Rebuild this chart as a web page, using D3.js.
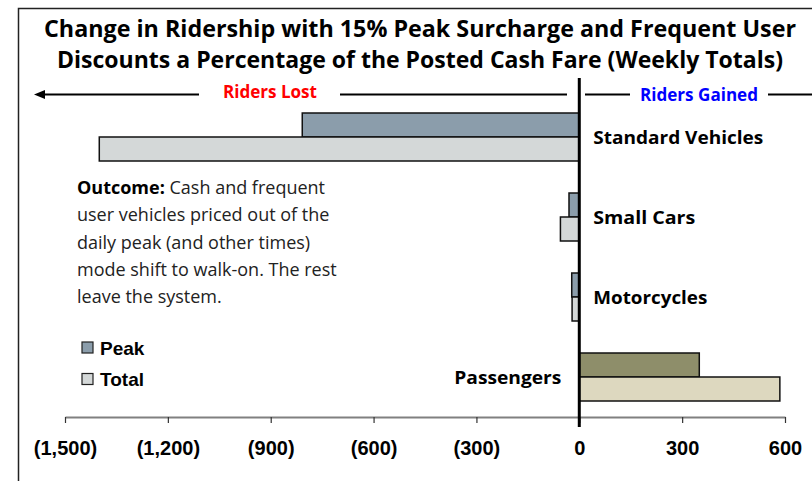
<!DOCTYPE html>
<html>
<head>
<meta charset="utf-8">
<script src="https://cdn.jsdelivr.net/npm/d3@7"></script>
<style>
  body { margin: 0; background: #fff; }
  svg { display: block; }
</style>
</head>
<body>
<svg id="chart" width="812" height="481"></svg>
<script>
// chart data
var categories = ["Standard Vehicles", "Small Cars", "Motorcycles", "Passengers"];
var series = ["Peak", "Total"];
var peakValues = [-808, -30, -22, 350];
var totalValues = [-1400, -55, -21, 585];
var tickValues = [-1500, -1200, -900, -600, -300, 0, 300, 600];
var titleLines = [
    "Change in Ridership with 15% Peak Surcharge and Frequent User",
    "Discounts a Percentage of the Posted Cash Fare (Weekly Totals)"
];
var noteLines = [
    "Cash and frequent",
    "user vehicles priced out of the",
    "daily peak (and other times)",
    "mode shift to walk-on. The rest",
    "leave the system."
];

var svg = d3.select("#chart");
var width = 812, height = 481;

var titleFont = "'Open Sans', 'DejaVu Sans', sans-serif";
var axisFont = "'Liberation Sans', Arial, sans-serif";

// frame (right and bottom run off the picture)
svg.append("rect")
    .attr("x", 18.5).attr("y", 8.5)
    .attr("width", 900).attr("height", 600)
    .attr("fill", "none")
    .attr("stroke", "#222")
    .attr("stroke-width", 1.5);

var x = d3.scaleLinear().domain([-1500, 600]).range([65, 785]);
var y = d3.scaleBand().domain(categories).range([97, 417])
    .paddingInner(0.4).paddingOuter(0.2);
var ySub = d3.scaleBand().domain(series).range([0, y.bandwidth()]);

// title
var titleWidths = [752, 726];
svg.selectAll(".title")
    .data(titleLines)
    .join("text")
    .attr("class", "title")
    .attr("x", 420)
    .attr("y", function(d, i) { return 37 + i * 31; })
    .attr("text-anchor", "middle")
    .attr("font-family", titleFont)
    .attr("font-weight", 700)
    .attr("font-size", 22.5)
    .attr("textLength", function(d, i) { return titleWidths[i]; })
    .attr("lengthAdjust", "spacingAndGlyphs")
    .attr("fill", "#000")
    .text(function(d) { return d; });

// riders lost / gained header
var headY = 94.5;
var lineSegs = [[44, 199], [340, 567], [585, 630], [768, 812]];
svg.selectAll(".seg")
    .data(lineSegs)
    .join("line")
    .attr("class", "seg")
    .attr("x1", function(d) { return d[0]; })
    .attr("x2", function(d) { return d[1]; })
    .attr("y1", headY).attr("y2", headY)
    .attr("stroke", "#000")
    .attr("stroke-width", 2);
svg.append("path")
    .attr("d", "M34," + headY + "L45," + (headY - 4.5) + "L45," + (headY + 4.5) + "Z")
    .attr("fill", "#000");

svg.append("text")
    .attr("x", 223).attr("y", 98)
    .attr("font-family", titleFont).attr("font-weight", 700).attr("font-size", 17)
    .attr("textLength", 94).attr("lengthAdjust", "spacingAndGlyphs")
    .attr("fill", "#ff0000")
    .text("Riders Lost");
svg.append("text")
    .attr("x", 640).attr("y", 101)
    .attr("font-family", titleFont).attr("font-weight", 700).attr("font-size", 17)
    .attr("textLength", 118).attr("lengthAdjust", "spacingAndGlyphs")
    .attr("fill", "#0000ff")
    .text("Riders Gained");

// bars
var colors = {
    normal: { Peak: "#8b9dab", Total: "#d4d8d8" },
    gain: { Peak: "#8e8e6a", Total: "#ddd8bf" }
};
var rows = [];
categories.forEach(function(c, i) {
    rows.push({ cat: c, s: "Peak", v: peakValues[i] });
    rows.push({ cat: c, s: "Total", v: totalValues[i] });
});

svg.selectAll(".bar")
    .data(rows)
    .join("rect")
    .attr("class", "bar")
    .attr("x", function(d) { return x(Math.min(0, d.v)); })
    .attr("y", function(d) { return y(d.cat) + ySub(d.s); })
    .attr("width", function(d) { return Math.abs(x(d.v) - x(0)); })
    .attr("height", ySub.bandwidth())
    .attr("fill", function(d) {
        return d.cat == "Passengers" ? colors.gain[d.s] : colors.normal[d.s];
    })
    .attr("stroke", "#111")
    .attr("stroke-width", 1.5);

// category labels
var labelWidths = { "Standard Vehicles": 170, "Small Cars": 102, "Motorcycles": 114, "Passengers": 107 };
svg.selectAll(".cat")
    .data(categories)
    .join("text")
    .attr("class", "cat")
    .attr("x", function(d, i) {
        return totalValues[i] < 0 ? x(0) + 14 : x(0) - 18;
    })
    .attr("y", function(d) { return y(d) + y.bandwidth() / 2 + 7; })
    .attr("text-anchor", function(d, i) { return totalValues[i] < 0 ? "start" : "end"; })
    .attr("font-family", titleFont)
    .attr("font-weight", 700)
    .attr("font-size", 18)
    .attr("textLength", function(d) { return labelWidths[d]; })
    .attr("lengthAdjust", "spacingAndGlyphs")
    .attr("fill", "#000")
    .text(function(d) { return d; });

// x axis
var fmt = d3.format(",");
var axis = svg.append("g")
    .attr("transform", "translate(0,417)")
    .call(d3.axisBottom(x)
        .tickValues(tickValues)
        .tickSize(6)
        .tickSizeOuter(0)
        .tickFormat(function(d) { return d < 0 ? "(" + fmt(-d) + ")" : fmt(d); }));
axis.select(".domain").attr("stroke", "#808080").attr("stroke-width", 2);
axis.selectAll(".tick line").attr("stroke", "#333").attr("stroke-width", 1.2);
axis.selectAll(".tick text")
    .attr("y", 38).attr("dy", 0)
    .attr("font-family", axisFont)
    .attr("font-weight", 700)
    .attr("font-size", 20)
    .attr("fill", "#000");

// zero line
svg.append("line")
    .attr("x1", x(0)).attr("x2", x(0))
    .attr("y1", 78).attr("y2", 427)
    .attr("stroke", "#000")
    .attr("stroke-width", 3);

// outcome note
var note = svg.append("text")
    .attr("font-family", titleFont)
    .attr("font-size", 18)
    .attr("fill", "#222");
noteLines.forEach(function(line, i) {
    var t = note.append("tspan")
        .attr("x", 77)
        .attr("y", 194 + i * 27.3);
    if (i == 0) {
        t.append("tspan").attr("font-weight", 700).attr("fill", "#000").text("Outcome: ");
    }
    t.append("tspan").text(line);
});

// legend
var legend = svg.selectAll(".leg")
    .data(series)
    .join("g")
    .attr("class", "leg")
    .attr("transform", function(d, i) { return "translate(82," + (342 + i * 31.5) + ")"; });
legend.append("rect")
    .attr("width", 11).attr("height", 11)
    .attr("fill", function(d) { return colors.normal[d]; })
    .attr("stroke", "#222")
    .attr("stroke-width", 1.2);
legend.append("text")
    .attr("x", 18).attr("y", 12.5)
    .attr("font-family", axisFont)
    .attr("font-weight", 700)
    .attr("font-size", 19)
    .attr("fill", "#000")
    .text(function(d) { return d; });
</script>
</body>
</html>
